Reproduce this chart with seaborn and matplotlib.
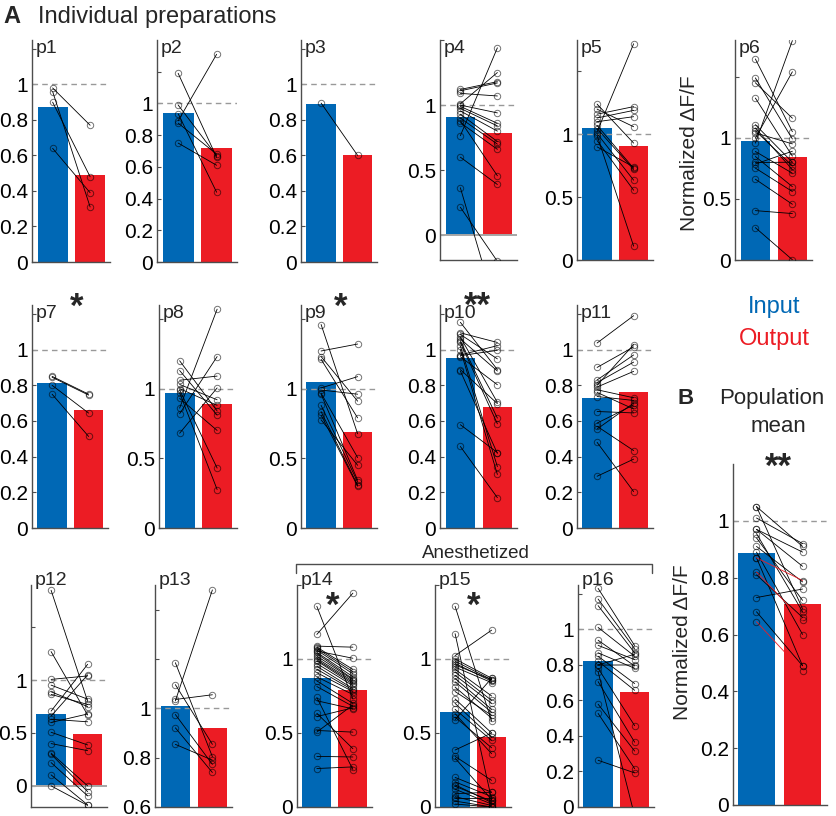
import matplotlib
matplotlib.use("Agg")
import matplotlib.pyplot as plt
from matplotlib.lines import Line2D
import pandas as pd
import seaborn as sns

# ---------------- data ----------------
conditions = ["Input", "Output"]
prep_names = [f"p{i}" for i in range(1, 17)]
bar_input = [0.87, 0.94, 0.89, 0.91, 1.05, 0.97, 0.81, 0.97, 1.05, 0.955, 0.73, 0.68, 1.01, 0.87, 0.645, 0.82]
bar_output = [0.49, 0.72, 0.60, 0.785, 0.91, 0.84, 0.66, 0.89, 0.69, 0.68, 0.76, 0.49, 0.92, 0.79, 0.47, 0.65]
anesthetized = ["p14", "p15", "p16"]
significance = {"p7": "*", "p9": "*", "p10": "**", "p14": "*", "p15": "*"}
population_sig = "**"

p1_in = [0.98, 0.96, 0.90, 0.64]
p1_out = [0.77, 0.31, 0.48, 0.39]
p2_in = [1.19, 0.99, 0.935, 0.89, 0.876, 0.75]
p2_out = [0.66, 0.67, 0.44, 1.31, 0.68, 0.61]
p3_in = [0.895]
p3_out = [0.60]
p4_in = [1.12, 1.11, 1.09, 1.01, 1.0, 0.99, 0.975, 0.955, 0.93, 0.90, 0.88, 0.865, 0.765, 0.60, 0.365, 0.215]
p4_out = [1.18, 1.17, 1.07, 1.25, 0.94, 0.86, 0.84, 0.80, 0.72, 0.70, 0.457, 0.66, 1.44, 0.39, -0.6, -0.2]
p5_in = [1.24, 1.20, 1.16, 1.13, 1.10, 1.07, 1.045, 1.02, 1.005, 0.99, 0.95, 0.90]
p5_out = [0.93, 1.06, 1.22, 1.19, 1.14, 0.73, 0.72, 1.72, 0.635, 0.11, 0.555, 0.74]
p6_in = [1.645, 1.49, 1.45, 1.325, 1.107, 1.08, 1.057, 1.04, 0.997, 0.956, 0.888, 0.847, 0.798, 0.785, 0.752, 0.661, 0.404, 0.265]
p6_out = [1.05, 0.99, 1.16, 0.85, 0.80, 0.74, 0.77, 0.95, 1.54, 1.795, 0.71, 0.60, 0.80, 0.89, 0.56, 0.456, 0.38, 0.002]
p7_in = [0.85, 0.845, 0.80, 0.75]
p7_out = [0.75, 0.745, 0.644, 0.513]
p8_in = [1.20, 1.13, 1.06, 1.03, 1.0, 0.99, 0.97, 0.93, 0.86, 0.82, 0.68]
p8_out = [0.84, 0.81, 1.09, 0.92, 0.88, 0.43, 0.276, 0.70, 1.57, 1.23, 1.005]
p9_in = [1.46, 1.27, 1.23, 1.21, 1.005, 0.99, 0.967, 0.96, 0.88, 0.835, 0.81, 0.776]
p9_out = [0.676, 1.32, 0.91, 0.79, 1.086, 0.96, 0.505, 0.343, 0.33, 0.307, 0.30, 0.45]
p10_in = [1.153, 1.094, 1.085, 1.07, 1.05, 1.04, 1.02, 1.0, 0.97, 0.966, 0.96, 0.888, 0.88, 0.579, 0.457, 1.06]
p10_out = [0.888, 1.04, 0.948, 0.704, 0.616, 0.584, 0.344, 0.30, 1.022, 0.996, 0.803, 0.697, 0.418, 0.423, 0.17, 0.88]
p11_in = [1.037, 0.90, 0.83, 0.815, 0.80, 0.79, 0.775, 0.76, 0.737, 0.653, 0.588, 0.57, 0.555, 0.48, 0.29]
p11_out = [1.19, 1.015, 0.97, 0.93, 1.028, 0.878, 0.73, 0.667, 0.715, 0.645, 0.69, 0.434, 0.70, 0.204, 0.386]
p12_in = [1.85, 1.27, 1.007, 0.953, 0.89, 0.865, 0.707, 0.66, 0.63, 0.60, 0.507, 0.40, 0.31, 0.30, 0.22, 0.104, 0.0]
p12_out = [0.80, 0.67, 1.04, 0.82, 0.75, 0.77, 1.15, 1.05, 0.606, 0.68, 0.387, 0.333, 0.0, -0.055, -0.095, -0.18, -0.185]
p13_in = [1.185, 1.096, 1.036, 1.03, 0.975, 0.921, 0.854]
p13_out = [0.804, 0.854, 1.055, 1.48, 0.773, 0.74, 0.79]
p14_in = [1.356, 1.166, 1.087, 1.08, 1.071, 1.06, 1.054, 1.045, 1.036, 1.02, 1.005, 0.995, 0.987, 0.969,
          0.951, 0.931, 0.908, 0.879, 0.852, 0.814, 0.74, 0.718, 0.633, 0.611, 0.517, 0.506, 0.342, 0.260]
p14_out = [0.73, 1.445, 1.08, 0.93, 0.915, 0.90, 1.005, 0.88, 0.865, 0.86, 0.85, 0.84, 0.83, 0.82,
           0.80, 0.79, 0.78, 0.76, 0.70, 0.68, 0.253, 0.663, 0.394, 0.67, 0.506, 0.69, 0.338, 0.271]
p15_in = [1.356, 1.171, 1.023, 1.0, 0.985, 0.97, 0.96, 0.945, 0.93, 0.912, 0.89, 0.868, 0.846, 0.81, 0.78,
          0.73, 0.70, 0.66, 0.63, 0.607, 0.59, 0.385, 0.342, 0.33, 0.20, 0.17, 0.15, 0.14, 0.12, 0.09,
          0.07, 0.06, 0.04, 0.02]
p15_out = [0.58, 0.05, 1.195, 0.87, 0.86, 0.85, 0.86, 0.84, 0.75, 0.72, 0.70, 0.66, 0.64, 0.60, 0.62,
           0.50, 0.47, 0.45, 0.36, 0.40, 0.87, 0.50, 0.18, 0.05, 0.10, 0.07, 0.03, 0.04, 0.02, 0.10,
           0.01, 0.06, 0.0, 0.0]
p16_in = [1.231, 1.171, 1.134, 1.011, 0.939, 0.91, 0.868, 0.849, 0.821, 0.80, 0.799, 0.781, 0.762, 0.706, 0.579, 0.527, 0.263]
p16_out = [0.909, 0.892, 0.868, 0.849, 0.794, 0.83, 0.781, 0.695, 0.657, 0.86, 0.80, 0.458, -0.05, 0.365, 0.315, 0.216, 0.192]

points = {
    "p1": (p1_in, p1_out), "p2": (p2_in, p2_out), "p3": (p3_in, p3_out), "p4": (p4_in, p4_out),
    "p5": (p5_in, p5_out), "p6": (p6_in, p6_out), "p7": (p7_in, p7_out), "p8": (p8_in, p8_out),
    "p9": (p9_in, p9_out), "p10": (p10_in, p10_out), "p11": (p11_in, p11_out), "p12": (p12_in, p12_out),
    "p13": (p13_in, p13_out), "p14": (p14_in, p14_out), "p15": (p15_in, p15_out), "p16": (p16_in, p16_out),
}

# ---------------- layout / style ----------------
W, H = 837, 816
BLUE = "#0068b5"
RED = "#ec1c24"
T02 = [0, 0.2, 0.4, 0.6, 0.8, 1, 1.2]
T05 = [0, 0.5, 1, 1.5]
layout = {
    "p1": dict(rect=(32, 40, 110, 262), ylim=(0, 1.25), ticks=T02),
    "p2": dict(rect=(157, 40, 237, 262), ylim=(0, 1.40), ticks=T02),
    "p3": dict(rect=(301, 40, 377, 262), ylim=(0, 1.25), ticks=T02),
    "p4": dict(rect=(440, 40, 517, 260), ylim=(-0.19, 1.45), ticks=T05, zero=True),
    "p5": dict(rect=(577, 40, 653, 260), ylim=(0, 1.75), ticks=T05),
    "p6": dict(rect=(735, 40, 812, 260), ylim=(0, 1.80), ticks=T05),
    "p7": dict(rect=(32, 305, 108, 528), ylim=(0, 1.25), ticks=T02),
    "p8": dict(rect=(159, 305, 237, 528), ylim=(0, 1.60), ticks=T05),
    "p9": dict(rect=(301, 305, 377, 528), ylim=(0, 1.60), ticks=T05),
    "p10": dict(rect=(440, 305, 517, 528), ylim=(0, 1.25), ticks=T02),
    "p11": dict(rect=(577, 305, 653, 528), ylim=(0, 1.25), ticks=T02),
    "p12": dict(rect=(31, 585, 107, 807), ylim=(-0.2, 1.9), ticks=T05, zero=True, lab_up=13),
    "p13": dict(rect=(155, 585, 232, 807), ylim=(0.6, 1.5), ticks=[0.6, 0.8, 1, 1.2, 1.4], lab_up=13),
    "p14": dict(rect=(297, 585, 372, 807), ylim=(0, 1.49), ticks=T05, lab_up=13),
    "p15": dict(rect=(435, 585, 511, 807), ylim=(0, 1.49), ticks=T05, lab_up=13),
    "p16": dict(rect=(578, 585, 654, 807), ylim=(0, 1.25), ticks=T02, lab_up=13),
}
star_pos = {"p7": (77, 297), "p9": (341, 297), "p10": (477, 296), "p14": (333, 596), "p15": (474, 596)}

sns.set_style("ticks")
plt.rcParams["font.family"] = ["Liberation Sans", "DejaVu Sans"]

fig = plt.figure(figsize=(W / 100, H / 100), dpi=100)


def px_axes(l, t, r, b):
    return fig.add_axes([l / W, 1 - b / H, (r - l) / W, (b - t) / H])


def ftext(x, y, s, **kw):
    return fig.text(x / W, 1 - y / H, s, **kw)


def star(x, yc, s, fs=25):
    em = fs * 100 / 72
    ftext(x, yc + 0.57 * em, s, fontsize=fs, fontweight="bold", ha="center", va="baseline")


def style_axes(ax, ylim, ticks, xlim):
    ax.set_xlim(*xlim)
    ax.set_ylim(*ylim)
    ax.set_xticks([])
    ax.set_yticks(ticks)
    ax.set_yticklabels([f"{t:g}" if t <= 1.0001 else "" for t in ticks])
    ax.set_xlabel("")
    ax.set_ylabel("")
    sns.despine(ax=ax)
    for sp in ("left", "bottom"):
        ax.spines[sp].set_color("0.3")
        ax.spines[sp].set_linewidth(1.0)
    ax.tick_params(axis="y", direction="in", length=3, width=0.8, color="0.3",
                   labelsize=15, pad=3, labelcolor="black")
    ax.patch.set_alpha(0)


def draw_bars(ax, df):
    sns.barplot(data=df, x="pos", y="value", hue="cond", hue_order=conditions,
                palette=[BLUE, RED], native_scale=True, dodge=False, width=0.8,
                saturation=1, legend=False, errorbar=None, estimator="mean", ax=ax, linewidth=0)


def draw_pairs(ax, df, hue=None, palette=None):
    kws = dict(color="black") if hue is None else dict(hue=hue, palette=palette)
    sns.lineplot(data=df, x="pos", y="value", units="pair", estimator=None, sort=False,
                 lw=0.6, marker="o", markersize=4.6, markerfacecolor="none",
                 markeredgecolor=(0, 0, 0, 0.55), markeredgewidth=0.7,
                 legend=False, ax=ax, zorder=3, **kws)


for name in prep_names:
    cfg = layout[name]
    i = prep_names.index(name)
    ax = px_axes(*cfg["rect"])
    bars = pd.DataFrame({"pos": [0, 1], "value": [bar_input[i], bar_output[i]], "cond": conditions})
    draw_bars(ax, bars)
    pin, pout = points[name]
    n = len(pin)
    pairs = pd.DataFrame({"pos": [0] * n + [1] * n, "value": list(pin) + list(pout),
                          "pair": list(range(n)) * 2})
    ax.axhline(1, color="0.6", lw=1, ls=(0, (4, 3)), zorder=1.5)
    if cfg.get("zero"):
        ax.axhline(0, color="0.65", lw=1.4, zorder=1.4)
    draw_pairs(ax, pairs)
    style_axes(ax, cfg["ylim"], cfg["ticks"], (-0.55, 1.53))
    up = cfg.get("lab_up", 0)
    l, t, r, b = cfg["rect"]
    ftext(l + 4, t - up, name, fontsize=14, ha="left", va="top")
    if name in significance:
        sx, sy = star_pos[name]
        star(sx, sy, significance[name])

# ---- population mean panel ----
axB = px_axes(733, 464, 827, 805)
pop = pd.DataFrame({
    "pos": [0] * 16 + [1] * 16,
    "value": bar_input + bar_output,
    "cond": ["Input"] * 16 + ["Output"] * 16,
    "pair": list(range(16)) * 2,
    "group": ["anesth" if p in anesthetized else "awake" for p in prep_names] * 2,
})
draw_bars(axB, pop)
axB.axhline(1, color="0.6", lw=1, ls=(0, (4, 3)), zorder=1.5)
draw_pairs(axB, pop, hue="group", palette={"awake": "black", "anesth": RED})
style_axes(axB, (0, 1.2), [0, 0.2, 0.4, 0.6, 0.8, 1], (-0.51, 1.53))
star(778, 457, population_sig)

# ---- texts ----
ftext(3, 23, "A", fontsize=17, fontweight="bold", ha="left", va="baseline")
ftext(38, 23, "Individual preparations", fontsize=17, ha="left", va="baseline")
ftext(678, 404, "B", fontsize=16, fontweight="bold", ha="left", va="baseline")
ftext(772, 404, "Population", fontsize=16, ha="center", va="baseline")
ftext(778, 432, "mean", fontsize=16, ha="center", va="baseline")
ftext(774, 313, "Input", fontsize=17, color=BLUE, ha="center", va="baseline")
ftext(774, 345, "Output", fontsize=17, color=RED, ha="center", va="baseline")
ftext(690, 153, "Normalized ΔF/F", fontsize=15, rotation=90, ha="center", va="center")
ftext(683, 642, "Normalized ΔF/F", fontsize=15, rotation=90, ha="center", va="center")

# anesthetized bracket
ftext(476, 558, "Anesthetized", fontsize=13.5, ha="center", va="baseline")
bx = [296 / W, 296 / W, 652 / W, 652 / W]
by = [1 - 573 / H, 1 - 564 / H, 1 - 564 / H, 1 - 573 / H]
fig.add_artist(Line2D(bx, by, color="0.3", lw=1, transform=fig.transFigure))

fig.savefig("out.png", dpi=100)
